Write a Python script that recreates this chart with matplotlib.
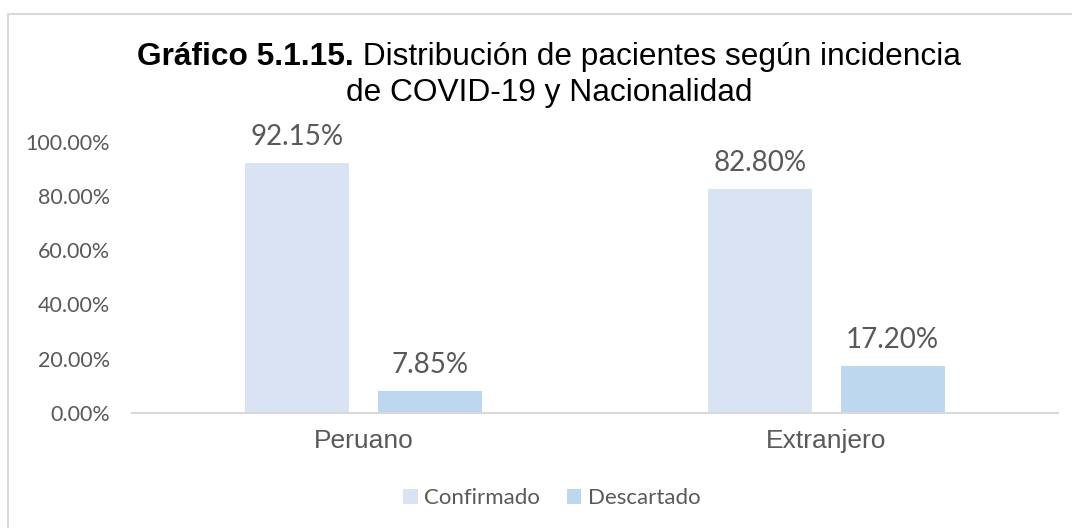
import matplotlib
matplotlib.use("Agg")
import matplotlib.pyplot as plt
from matplotlib.patches import Rectangle, Patch

# data
categorias = ["Peruano", "Extranjero"]
series = ["Confirmado", "Descartado"]
confirmado = [0.9215, 0.8280]
descartado = [0.0785, 0.1720]
ticks_y = [0.0, 0.2, 0.4, 0.6, 0.8, 1.0]

colores = ["#DAE3F3", "#BDD7EE"]
gris = "#595959"
borde = "#D9D9D9"
num_font = "Lato"
txt_font = "Liberation Sans"

W, H = 1072, 528
fig = plt.figure(figsize=(W / 100, H / 100), dpi=100)

# chart frame (left + top visible)
fig.patches.append(Rectangle((8 / W, -0.05), 1.2, (H - 14) / H + 0.05,
                             transform=fig.transFigure, fill=False,
                             edgecolor=borde, linewidth=1.5))

ax = fig.add_axes([132 / W, (H - 412.7) / H, 926 / W, 270.7 / H])

x = list(range(len(categorias)))
ancho = 0.225
desp = 0.143
for vals, off, col in ((confirmado, -desp, colores[0]), (descartado, desp, colores[1])):
    pos = [i + off for i in x]
    ax.bar(pos, vals, width=ancho, color=col, zorder=2)
    for p, v in zip(pos, vals):
        ax.annotate("%.2f%%" % (v * 100), (p, v), xytext=(0, 13),
                    textcoords="offset points", ha="center", va="baseline",
                    fontsize=20, color=gris, family=num_font)

ax.set_xlim(-0.5, 1.5)
ax.set_ylim(0, 1)
ax.set_yticks(ticks_y)
ax.set_yticklabels(["%.2f%%" % (t * 100) for t in ticks_y],
                   fontsize=15.5, color=gris, family=num_font)
ax.set_xticks(x)
ax.set_xticklabels(categorias, fontsize=19, color=gris, family=txt_font)
ax.tick_params(axis="y", length=0, pad=16)
ax.tick_params(axis="x", length=0, pad=11.5)
for s in ("top", "right", "left"):
    ax.spines[s].set_visible(False)
ax.spines["bottom"].set_color(borde)
ax.spines["bottom"].set_linewidth(1.5)
ax.spines["bottom"].set_zorder(3)

# title, bold prefix + regular text, centred around x=549
r = fig.canvas.get_renderer()
cx = 549 / W
def linea(partes, y):
    objs = []
    for txt, w in partes:
        objs.append(fig.text(0, y, txt, fontsize=22.8, fontweight=w,
                             family=txt_font, color="black", va="baseline"))
    anchos = [o.get_window_extent(r).width for o in objs]
    x0 = cx - sum(anchos) / 2 / W
    for o, a in zip(objs, anchos):
        o.set_x(x0)
        x0 += a / W

linea([("Gráfico 5.1.15.", "bold"),
       (" Distribución de pacientes según incidencia", "normal")], (H - 65) / H)
linea([("de COVID-19 y Nacionalidad", "normal")], (H - 101) / H)

handles = [Patch(facecolor=c, edgecolor="none") for c in colores]
fig.legend(handles, series, loc="center", bbox_to_anchor=(552 / W, (H - 498) / H),
           ncol=2, frameon=False, handlelength=0.65, handleheight=0.65,
           handletextpad=0.3, columnspacing=1.2,
           prop={"family": num_font, "size": 16}, labelcolor=gris)

fig.savefig("out.png", dpi=100)
